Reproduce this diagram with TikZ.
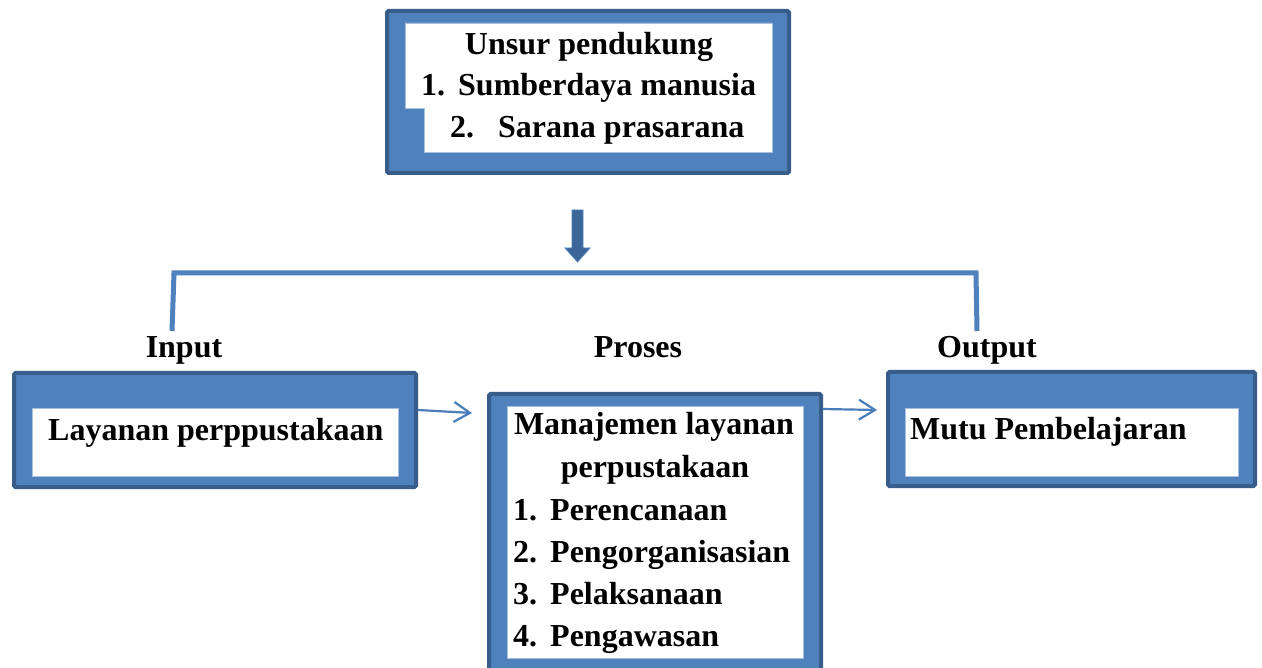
\documentclass[tikz,border=0pt]{standalone}
\usepackage{fontspec}
\setmainfont{Liberation Serif}
\usetikzlibrary{arrows.meta}
\definecolor{boxfill}{HTML}{4F81BD}
\definecolor{boxedge}{HTML}{385D8A}
\definecolor{innerline}{HTML}{A7BFDE}
\definecolor{linkcol}{HTML}{4A7EBB}
\definecolor{downcol}{HTML}{3C6598}
\begin{document}
\begin{tikzpicture}[x=1pt,y=-1pt,
  outerbox/.style={draw=boxedge, line width=4pt, fill=boxfill, rounded corners=1.5pt, inner sep=0pt},
  innerbox/.style={fill=white, draw=innerline, line width=0.8pt},
  txt/.style={font=\fontsize{32}{38}\selectfont\bfseries, inner sep=0pt, anchor=base west},
  ctxt/.style={font=\fontsize{32}{38}\selectfont\bfseries, inner sep=0pt, anchor=base},
  link/.style={draw=linkcol, line width=2.2pt, -{Straight Barb[length=16pt,width=20pt,line width=2.2pt]}},
  bracket/.style={draw=boxfill, line width=5pt}]
\useasboundingbox (0,0) rectangle (1262,668);
\clip (0,0) rectangle (1262,668);
\fill[white] (0,0) rectangle (1262,668);

% top box
\node[outerbox, minimum width=402pt, minimum height=162pt] (top) at (588,92) {};
\fill[innerbox] (405,23) -- (772,23) -- (772,152) -- (424,152) -- (424,108) -- (405,108) -- cycle;
\node[ctxt] (t0) at (589,55) {Unsur pendukung};
\node[txt] (t1n) at (421,96) {1.};
\node[txt] (t1) at (458,96) {Sumberdaya manusia};
\node[txt] (t2n) at (450,138) {2.};
\node[txt] (t2) at (498,138) {Sarana prasarana};

% down arrow
\coordinate (dA) at (572,210);
\coordinate (dB) at (583,210);
\coordinate (dC) at (583,248);
\coordinate (dD) at (590,248);
\coordinate (dE) at (577.5,262);
\coordinate (dF) at (565,248);
\coordinate (dG) at (572,248);
\filldraw[fill=downcol, draw=boxfill, line width=0.8pt] (dA) -- (dB) -- (dC) -- (dD) -- (dE) -- (dF) -- (dG) -- cycle;

% bracket
\coordinate (bl) at (172,331);
\coordinate (blt) at (174,273);
\coordinate (brt) at (976,273);
\coordinate (br) at (977,331);
\draw[bracket] (bl) -- (blt) -- (brt) -- (br);

% labels
\node[ctxt] (lin) at (184,358) {Input};
\node[ctxt] (lpr) at (638,358) {Proses};
\node[ctxt] (lout) at (987,358) {Output};

% left box
\node[outerbox, minimum width=402pt, minimum height=114pt] (left) at (215,430) {};
\fill[innerbox] (32,408) rectangle (398,476);
\node[txt] (ltxt) at (48,440) {Layanan perppustakaan};

% middle box
\node[outerbox, minimum width=332pt, minimum height=306pt] (mid) at (655,547) {};
\fill[innerbox] (507,406) rectangle (803,658);
\node[ctxt] (m0) at (654,435) {Manajemen layanan};
\node[ctxt] (m1) at (655,478) {perpustakaan};
\node[txt] (m2n) at (513,520) {1.};
\node[txt] (m2) at (550,520) {Perencanaan};
\node[txt] (m3n) at (513,562) {2.};
\node[txt] (m3) at (550,562) {Pengorganisasian};
\node[txt] (m4n) at (513,604) {3.};
\node[txt] (m4) at (550,604) {Pelaksanaan};
\node[txt] (m5n) at (513,646) {4.};
\node[txt] (m5) at (550,646) {Pengawasan};

% right box
\node[outerbox, minimum width=367pt, minimum height=114pt] (right) at (1071.5,429) {};
\fill[innerbox] (905,408) rectangle (1238,476);
\node[txt] (rtxt) at (910,439) {Mutu Pembelajaran};

% connectors
\coordinate (a1s) at (418,410);
\coordinate (a1e) at (472,413);
\coordinate (a2s) at (823,409);
\coordinate (a2e) at (877,410);
\draw[link] (a1s) -- (a1e);
\draw[link] (a2s) -- (a2e);
\end{tikzpicture}
\end{document}
